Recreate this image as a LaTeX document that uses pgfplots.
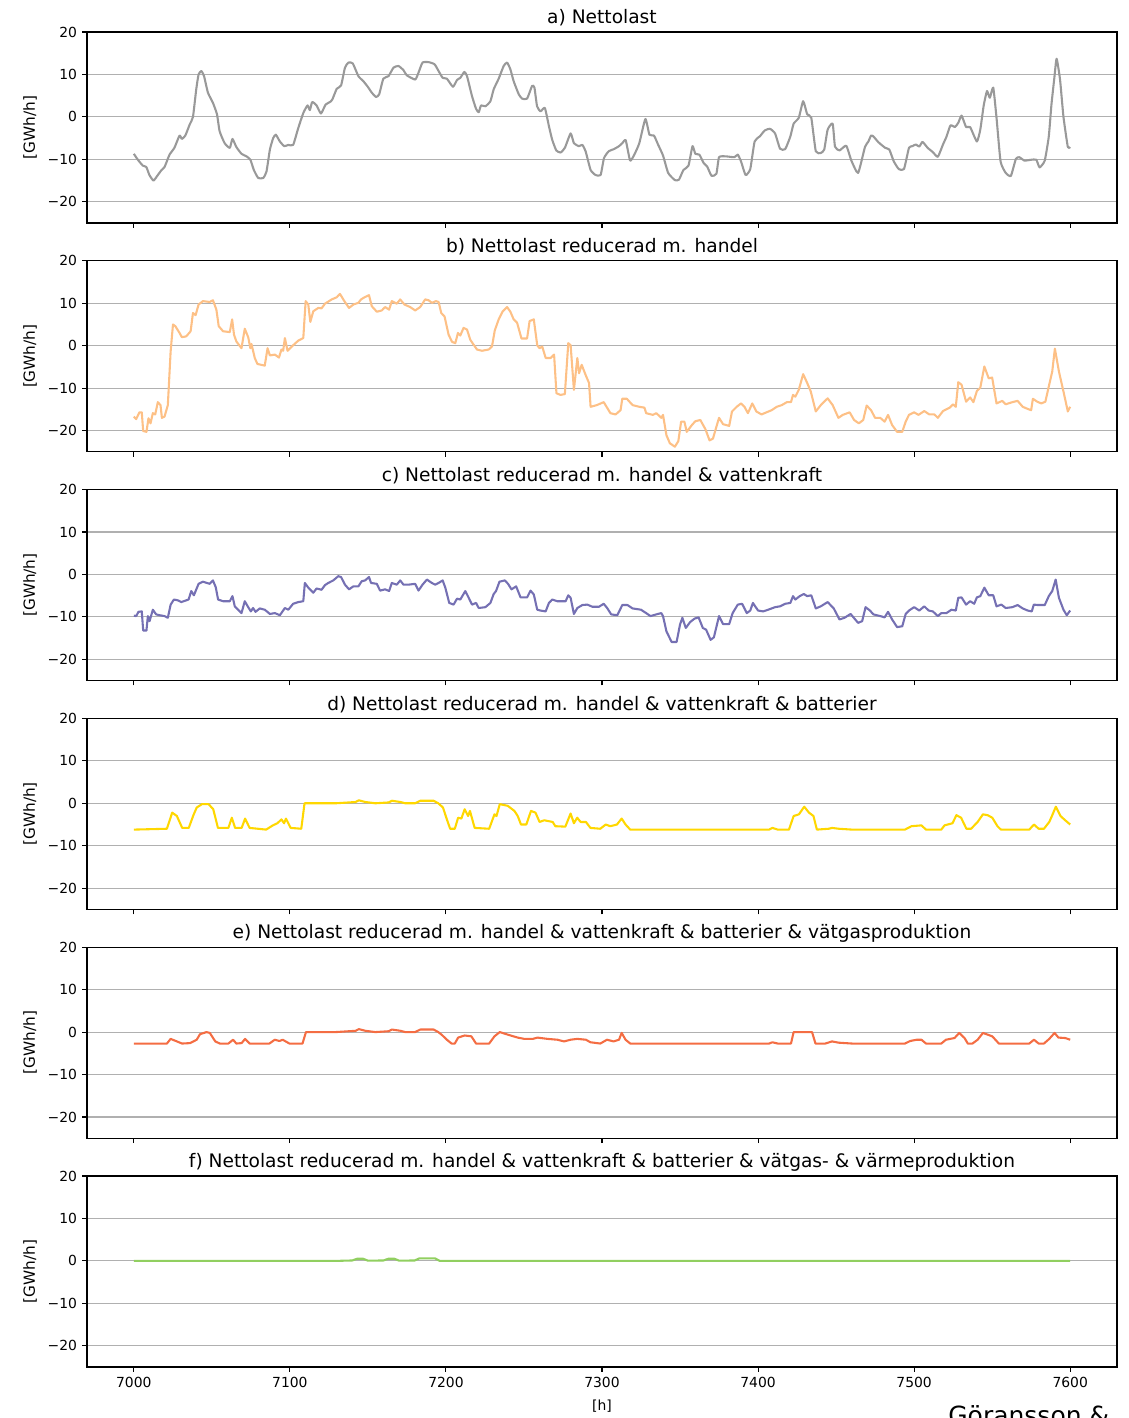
\documentclass[border=0pt]{standalone}
\usepackage{fontspec}
\setmainfont{DejaVu Sans}
\usepackage{pgfplots}
\pgfplotsset{compat=1.18}
\definecolor{gridgray}{HTML}{B0B0B0}
\definecolor{ca}{HTML}{999999}
\definecolor{cb}{HTML}{FDC086}
\definecolor{cc}{HTML}{7570B3}
\definecolor{cd}{HTML}{FFD700}
\definecolor{ce}{HTML}{F46D43}
\definecolor{cf}{HTML}{91CF60}
\pgfplotsset{
 panel/.style={
  scale only axis, width=741.6pt, height=137.52pt,
  anchor=south west,
  xmin=6970, xmax=7630, ymin=-25, ymax=20,
  xtick={7000,7100,7200,7300,7400,7500,7600},
  ytick={-20,-10,0,10,20},
  yticklabels={−20,−10,0,10,20},
  xticklabels={},
  ymajorgrids, major grid style={draw=gridgray, line width=0.8pt},
  axis line style={line width=0.8pt},
  tick align=outside, major tick length=3.5pt,
  every tick/.style={black, line width=0.8pt},
  xtick pos=bottom, ytick pos=left,
  tick label style={font=\fontsize{10}{12}\selectfont},
  yticklabel style={inner sep=0pt, xshift=-3.5pt},
  xticklabel style={inner sep=0pt, yshift=-3.5pt},
  title style={font=\fontsize{13.4}{15}\selectfont, at={(0.5,1)}, anchor=base, inner sep=0pt},
  ylabel={[GWh/h]},
  ylabel style={font=\fontsize{11}{13}\selectfont, at={(axis description cs:-0.0553,0.5)}, anchor=center, inner sep=0pt},
  every axis plot/.append style={line width=1.5pt, line join=round, mark=none},
 }
}
\begin{document}
\begin{tikzpicture}
\useasboundingbox (0,0) rectangle (812.16pt,1020.96pt);
% a
\begin{axis}[panel, at={(62.64pt,860.40pt)}, title={a) Nettolast}]
\addplot[color=ca, smooth, tension=0.3] coordinates {(7000,-8.7) (7002.6,-10.1) (7005.8,-11.5) (7008,-11.8) (7010,-13.7) (7012.6,-15.0) (7015.4,-13.7) (7017.6,-12.6) (7019.7,-11.8) (7022.9,-8.9) (7026,-7.3) (7029.3,-4.4) (7030.8,-5.2) (7033,-4.4) (7035.8,-1.8) (7037.9,0) (7040,6.5) (7041.5,10.0) (7043.3,10.8) (7045,9.6) (7047.5,5.7) (7050.7,3.3) (7053.3,0.6) (7055,-3.4) (7058.2,-6.2) (7061.5,-7.3) (7063.2,-5.2) (7065.7,-7.1) (7069,-8.7) (7072.2,-9.3) (7074.7,-10.1) (7076.9,-12.5) (7079.7,-14.4) (7082.9,-14.4) (7085,-12.9) (7087.2,-7.7) (7089.3,-5.0) (7091,-4.2) (7093.6,-5.8) (7096.4,-6.9) (7099,-6.6) (7102.1,-6.6) (7105.4,-2.6) (7108.6,0.9) (7111.3,2.7) (7112.8,1.6) (7114.3,3.5) (7117.1,2.7) (7119.9,0.8) (7122.9,2.9) (7125.7,3.5) (7127.2,4.1) (7130,6.6) (7132.8,7.4) (7135.3,11.6) (7137.5,12.8) (7140.3,12.6) (7143.9,9.6) (7147.1,8.4) (7149.9,7.1) (7152.5,5.7) (7155.2,4.7) (7157.2,5.3) (7159.9,9.0) (7163.2,9.6) (7166.4,11.6) (7169.6,12.0) (7172.8,11.0) (7174.9,9.8) (7180.3,8.8) (7182.4,10.4) (7185,12.8) (7188.9,12.9) (7192.7,12.4) (7195.3,10.8) (7197.9,9.2) (7200.6,9.0) (7204.5,7.1) (7207.1,8.7) (7209.2,9.2) (7211.8,10.6) (7213.5,9.6) (7216.7,4.9) (7219.3,1.9) (7221,1.1) (7222.5,2.7) (7225.3,2.5) (7228.5,3.7) (7230.6,6.5) (7233.8,9.0) (7237,12.0) (7239.2,12.8) (7241.3,11.2) (7243.4,8.4) (7246.7,5.3) (7248.8,4.3) (7252,4.3) (7255.2,7.3) (7256.7,6.9) (7258.4,2.5) (7260.6,1.3) (7263.4,2.1) (7266,-2.2) (7268.1,-5.4) (7270.7,-7.9) (7273.4,-8.4) (7276.2,-7.3) (7279.9,-3.9) (7282,-6.2) (7285.2,-6.9) (7287.4,-6.6) (7289.5,-8.1) (7292.7,-12.5) (7295.9,-13.7) (7299.1,-13.7) (7301.3,-9.7) (7304.3,-8.1) (7307.6,-7.6) (7310.9,-6.9) (7313,-6.2) (7315.2,-5.5) (7318,-10.3) (7320.7,-8.9) (7323.9,-6.2) (7327.8,-0.5) (7330.4,-4.2) (7333.3,-4.4) (7335.9,-6.5) (7339.1,-9.1) (7342.4,-13.2) (7346.7,-14.9) (7349.3,-14.8) (7352.2,-12.5) (7355.4,-11.5) (7358,-6.9) (7359.8,-8.7) (7362.4,-8.9) (7365.2,-10.9) (7367.4,-11.7) (7370.2,-13.9) (7373.3,-13.4) (7375,-9.5) (7379.3,-9.3) (7384.8,-9.5) (7387,-8.9) (7389.1,-10.5) (7392,-13.7) (7395,-12.3) (7397.8,-5.8) (7401.1,-4.6) (7404.3,-3.2) (7407.6,-2.8) (7410.9,-3.9) (7414.1,-7.5) (7417.4,-7.6) (7420.7,-4.6) (7422.8,-1.6) (7426.1,-0.2) (7428.9,3.7) (7431.5,0.6) (7434.1,-0.2) (7437,-8.1) (7440.2,-8.5) (7442.4,-7.7) (7444.6,-3.0) (7447.8,-1.6) (7449.3,-7.0) (7452.2,-7.9) (7456.5,-6.8) (7459.8,-10.3) (7464.1,-13.2) (7468.5,-7.1) (7470.7,-5.8) (7472.4,-4.4) (7473.9,-4.6) (7477.2,-6.0) (7481.5,-7.3) (7484.1,-7.7) (7487,-10.5) (7490.2,-12.3) (7493.5,-12.3) (7496.7,-7.3) (7498.9,-6.9) (7501.1,-6.5) (7503.3,-7.0) (7505.4,-5.9) (7508.7,-7.3) (7512,-8.3) (7515.2,-9.4) (7518.5,-6.5) (7520.7,-4.7) (7523.3,-2.0) (7526.1,-2.4) (7528.3,-1.4) (7530.4,0.3) (7533.3,-2.4) (7535.9,-2.4) (7540.2,-5.8) (7542.4,-3.0) (7544.6,2.7) (7546.7,6.1) (7548.5,4.5) (7550.7,6.9) (7552.8,-0.2) (7555.4,-10.5) (7558.7,-13.2) (7562,-13.9) (7565.2,-9.9) (7567.4,-9.5) (7570.7,-10.3) (7575,-10.1) (7578.3,-10.1) (7580.4,-11.9) (7583.7,-10.3) (7586.3,-4.6) (7588,2.9) (7589.8,9.0) (7591.3,13.7) (7593.5,8.8) (7595.7,0.0) (7598.5,-7.1) (7600,-7.1)};
\end{axis}
% b
\begin{axis}[panel, at={(62.64pt,695.66pt)}, title={b) Nettolast reducerad m. handel}]
\addplot[color=cb] coordinates {(7000,-16.7) (7001.5,-17.3) (7003.6,-15.7) (7005.1,-15.7) (7006,-20.1) (7008.1,-20.3) (7009.4,-17.1) (7010.7,-18.3) (7012.2,-15.9) (7013.7,-16.2) (7015.4,-13.3) (7017.1,-14.0) (7018,-17.0) (7019.7,-16.7) (7021.8,-14.0) (7023.6,-1.3) (7025.1,5.0) (7026.6,4.6) (7029.3,3.0) (7030.8,2.0) (7033.6,2.2) (7036.4,3.4) (7037.9,7.7) (7039.6,7.2) (7041.5,9.7) (7044.3,10.5) (7048.6,10.3) (7050.7,10.7) (7052.9,8.5) (7054.4,4.6) (7057.2,3.4) (7061.5,3.2) (7063,6.2) (7064.2,2.6) (7065.7,1.0) (7069,-0.6) (7071.1,4.0) (7073.3,2.0) (7074.7,-0.6) (7075.4,0.4) (7077.5,-2.9) (7079.2,-4.3) (7083.9,-4.7) (7085.7,-0.6) (7087.2,-2.3) (7090.4,-2.1) (7093,-2.8) (7094.6,-0.9) (7095.7,-1.2) (7096.8,1.8) (7098.5,-1.2) (7102.1,0.1) (7105.4,1.2) (7108.6,1.8) (7110.1,10.5) (7111.8,9.7) (7113.1,5.6) (7115,8.1) (7118.2,8.9) (7120.3,8.8) (7122.5,9.9) (7126.8,10.9) (7130,11.4) (7132.1,12.2) (7134.9,10.5) (7137.9,8.9) (7140.7,9.7) (7143.9,10.1) (7145.6,10.9) (7147.8,11.4) (7150.7,11.9) (7152.5,9.3) (7155.7,8.0) (7158.9,8.3) (7161,9.1) (7163.6,8.5) (7165.3,10.5) (7168.5,9.9) (7170.7,10.9) (7173.4,9.7) (7177.1,9.1) (7180.3,8.3) (7183.5,9.1) (7186.7,10.9) (7188.9,10.7) (7191,10.1) (7193.6,10.5) (7195.3,10.3) (7197,7.7) (7199.1,6.9) (7201.7,2.6) (7203.9,0.9) (7206,0.6) (7207.7,3.0) (7209.2,2.4) (7211.3,4.2) (7213.5,3.8) (7215.6,1.4) (7217.8,0.2) (7219.9,-0.9) (7223.1,-1.2) (7227.4,-0.9) (7229.5,-0.2) (7231.3,3.6) (7233.8,6.2) (7236.4,8.1) (7239.2,9.1) (7241.3,8.0) (7243.4,6.2) (7245.6,5.4) (7248.4,1.7) (7252,1.7) (7253.6,5.8) (7256.3,6.2) (7258.5,0.1) (7260,-0.6) (7261.7,-0.2) (7263.9,-2.9) (7267.1,-2.9) (7269.3,-2.1) (7270.8,-11.2) (7273.4,-11.6) (7276.2,-11.4) (7278.4,0.6) (7279.9,0.1) (7282,-10.4) (7284.2,-2.9) (7285.3,-6.5) (7287,-4.5) (7289.5,-6.9) (7291.7,-8.8) (7292.7,-14.4) (7296.7,-14.0) (7301.1,-13.3) (7305.4,-15.9) (7308.7,-16.2) (7311.9,-15.2) (7313,-12.5) (7315.9,-12.5) (7319.6,-14.0) (7323.9,-14.4) (7327.2,-14.6) (7328.3,-15.9) (7332.6,-16.3) (7334.8,-15.9) (7338,-17.0) (7339.1,-16.3) (7341.3,-21.1) (7343.5,-23.0) (7346.7,-23.8) (7348.9,-22.5) (7350.7,-17.9) (7352.8,-17.9) (7354.3,-20.3) (7357.6,-18.7) (7359.8,-17.8) (7363,-17.5) (7366.3,-19.7) (7368.9,-22.3) (7371.1,-21.9) (7373.3,-19.1) (7375,-17.0) (7377.6,-18.5) (7381.5,-18.9) (7383.3,-15.5) (7386.3,-14.4) (7389.1,-13.6) (7391.3,-14.4) (7393.5,-15.9) (7396.3,-13.6) (7398.9,-15.5) (7402.2,-16.2) (7405.4,-15.7) (7408.7,-15.2) (7412,-14.4) (7415.2,-14.0) (7418.5,-13.3) (7421.1,-13.3) (7422.4,-11.6) (7423.9,-12.0) (7426.1,-10.4) (7428.9,-6.7) (7431.5,-8.8) (7433.7,-10.7) (7437,-15.5) (7440.2,-14.0) (7444.6,-12.4) (7447.8,-14.0) (7451.5,-17.0) (7454.3,-16.3) (7458.7,-15.7) (7461.5,-17.5) (7464.6,-18.3) (7467.4,-17.5) (7469.6,-14.1) (7472.4,-15.2) (7475,-17.0) (7478.3,-17.0) (7481.1,-17.9) (7483.3,-16.3) (7485.9,-18.7) (7489.1,-20.3) (7492.4,-20.3) (7494.6,-17.9) (7496.7,-16.3) (7500,-15.7) (7502.8,-16.3) (7506.5,-15.4) (7509.8,-16.2) (7513,-16.2) (7515.2,-17.0) (7518.5,-15.4) (7522.8,-14.6) (7525,-13.8) (7526.7,-14.4) (7528.3,-8.6) (7530.4,-9.2) (7533.3,-13.2) (7535.9,-12.2) (7538,-13.3) (7540.2,-10.7) (7542.4,-9.9) (7545,-4.9) (7547.8,-7.7) (7550,-7.5) (7552.8,-13.6) (7556.5,-13.0) (7558.7,-13.8) (7563,-13.3) (7566.3,-13.0) (7569.6,-14.4) (7572.8,-14.9) (7575,-15.2) (7576.1,-12.5) (7578.9,-13.2) (7581.5,-13.6) (7584.1,-13.2) (7586.3,-9.6) (7588.5,-6.1) (7590.2,-0.7) (7592.8,-6.1) (7595.7,-10.8) (7598.5,-15.5) (7600,-14.4)};
\end{axis}
% c
\begin{axis}[panel, at={(62.64pt,530.93pt)}, title={c) Nettolast reducerad m. handel \& vattenkraft}]
\addplot[color=cc] coordinates {(7000,-9.7) (7001.5,-9.8) (7003,-8.8) (7005.1,-8.7) (7006,-13.2) (7008.1,-13.2) (7009,-9.8) (7010.1,-11.0) (7012.2,-8.3) (7014.3,-9.4) (7016.5,-9.6) (7019.7,-9.8) (7021.8,-10.2) (7023.6,-7.1) (7025.7,-5.9) (7028.3,-6.1) (7030.4,-6.5) (7035.1,-5.9) (7036.8,-3.9) (7038.5,-4.9) (7041.5,-2.2) (7044.3,-1.7) (7048.6,-2.2) (7050.7,-1.4) (7052.5,-3.0) (7054,-5.9) (7057.2,-6.3) (7061.5,-6.3) (7063.2,-5.1) (7064.7,-7.5) (7066.8,-8.3) (7069,-9.1) (7071.1,-6.3) (7073.3,-7.7) (7075,-8.7) (7076.4,-7.9) (7078,-8.8) (7080.7,-8.0) (7083.9,-8.3) (7087.2,-9.3) (7090.4,-9.1) (7093.6,-9.6) (7096.8,-7.9) (7099,-8.3) (7102.1,-6.9) (7105.4,-6.5) (7108.6,-6.3) (7109.6,-2.0) (7111.8,-3.1) (7115,-4.3) (7117.1,-3.3) (7120.3,-3.6) (7122.5,-2.5) (7124.6,-2.0) (7127.8,-1.4) (7131,-0.4) (7132.8,-0.6) (7135.3,-2.4) (7137.9,-3.5) (7140.7,-2.8) (7143.9,-2.8) (7146,-1.6) (7148.2,-1.4) (7150.7,-0.6) (7152,-2.0) (7155.7,-2.2) (7157.8,-3.8) (7161,-3.5) (7163.6,-3.9) (7165.3,-2.0) (7168.5,-2.4) (7170.7,-1.4) (7172.8,-2.4) (7176,-2.4) (7180.3,-2.2) (7182.4,-3.8) (7185,-2.4) (7187.8,-1.2) (7191,-2.0) (7193.1,-2.4) (7195.3,-2.0) (7197.9,-1.4) (7199.6,-3.1) (7202.1,-6.7) (7204.9,-7.1) (7207.1,-5.7) (7209.2,-5.9) (7211.3,-4.6) (7212.4,-3.9) (7214.6,-5.5) (7216.7,-7.1) (7219.3,-6.7) (7221,-7.9) (7225.3,-7.7) (7228.5,-6.7) (7230.6,-4.6) (7232.1,-3.9) (7234.3,-1.7) (7237.7,-1.4) (7239.8,-2.2) (7242,-3.5) (7245,-2.8) (7247.8,-5.4) (7252,-5.4) (7254.2,-3.8) (7256.3,-4.7) (7258.5,-8.3) (7260.6,-8.5) (7263.9,-8.7) (7266,-6.7) (7268.1,-5.9) (7271.3,-6.3) (7276.7,-6.3) (7278.4,-4.9) (7279.9,-5.5) (7282,-9.3) (7284.2,-7.9) (7287.4,-7.2) (7290.6,-7.1) (7293.8,-7.6) (7298.1,-7.6) (7301.1,-6.9) (7303.3,-7.9) (7305.9,-9.4) (7309.8,-9.6) (7313,-7.2) (7316.3,-7.2) (7319.6,-8.0) (7325,-8.3) (7328.3,-9.1) (7331.1,-9.8) (7334.8,-9.4) (7338,-9.1) (7339.1,-9.8) (7341.3,-13.4) (7344.6,-15.9) (7347.8,-15.9) (7350,-11.8) (7351.5,-10.2) (7353.7,-12.6) (7356.5,-11.2) (7359.3,-10.4) (7361.9,-10.1) (7364.6,-12.6) (7366.7,-13.0) (7369.6,-15.4) (7371.7,-14.8) (7375,-9.8) (7377.6,-11.7) (7381.5,-11.7) (7383.7,-9.1) (7387,-7.1) (7389.8,-6.9) (7392.8,-9.1) (7395,-8.5) (7396.7,-6.7) (7400,-8.5) (7403.3,-8.7) (7406.5,-8.3) (7410.9,-7.7) (7414.1,-7.5) (7417.4,-6.9) (7420.7,-6.7) (7422.4,-5.1) (7423.9,-5.9) (7426.7,-5.1) (7429.3,-4.6) (7431.5,-5.1) (7434.1,-4.9) (7437,-8.0) (7440.2,-7.5) (7444.6,-6.5) (7448.5,-8.0) (7452.2,-10.6) (7455.4,-10.2) (7459.3,-9.3) (7464.1,-11.4) (7466.7,-11.0) (7468.9,-7.7) (7471.7,-8.5) (7473.9,-9.4) (7478.3,-9.8) (7481.1,-10.1) (7483.3,-8.8) (7485.9,-10.6) (7489.1,-12.4) (7492.4,-12.2) (7494.6,-9.3) (7496.7,-8.5) (7500,-7.7) (7503.3,-8.5) (7506.5,-7.5) (7509.3,-8.5) (7512,-8.7) (7515.2,-9.8) (7517.4,-9.1) (7520.7,-9.1) (7523.9,-8.3) (7526.7,-8.5) (7528.3,-5.5) (7530.4,-5.4) (7533.3,-7.1) (7535.9,-6.3) (7538.5,-6.9) (7540.2,-5.4) (7542.4,-5.1) (7545,-3.1) (7547.8,-4.9) (7550.7,-4.9) (7552.8,-7.5) (7555.9,-7.1) (7558.7,-7.9) (7563,-7.7) (7566.3,-7.2) (7569.6,-8.0) (7572.8,-8.5) (7575.4,-8.7) (7576.7,-7.1) (7579.3,-7.2) (7583.7,-7.2) (7586.3,-5.1) (7588.5,-3.9) (7590.7,-1.2) (7592.8,-5.5) (7595.7,-8.3) (7597.8,-9.6) (7600,-8.5)};
\end{axis}
% d
\begin{axis}[panel, at={(62.64pt,366.19pt)}, title={d) Nettolast reducerad m. handel \& vattenkraft \& batterier}]
\addplot[color=cd] coordinates {(7000,-6.2) (7021.2,-6.0) (7024.6,-2.2) (7027.6,-3.0) (7031,-5.8) (7035.2,-5.8) (7038.2,-2.8) (7040.3,-1.0) (7043.7,-0.2) (7047.9,-0.2) (7050.9,-1.4) (7053.9,-5.8) (7060.6,-5.8) (7062.8,-3.4) (7064.9,-5.8) (7069.1,-5.8) (7071.3,-3.6) (7074.2,-5.8) (7084.8,-6.2) (7089.1,-5.2) (7092,-4.7) (7094.6,-3.8) (7096.3,-4.7) (7097.5,-3.6) (7100.5,-5.8) (7107.3,-6.0) (7109.4,0.0) (7129.3,0.0) (7142.1,0.3) (7144.2,0.7) (7148.4,0.3) (7154.8,0.0) (7163.3,0.2) (7165.4,0.6) (7170.9,0.3) (7173.9,0.0) (7180.2,0.0) (7183.6,0.6) (7192.1,0.6) (7195.1,0.0) (7198.1,-1.0) (7200.6,-3.8) (7202.7,-6.0) (7205.7,-6.0) (7207.8,-3.4) (7209.9,-3.6) (7212,-1.4) (7214.2,-3.0) (7215.4,-1.8) (7218.4,-5.8) (7227.7,-6.0) (7231.1,-2.6) (7232.4,-3.0) (7234.5,-0.2) (7239.6,-0.6) (7243.9,-1.8) (7246,-3.0) (7248.1,-5.0) (7251.5,-5.0) (7254.5,-1.8) (7257.4,-2.2) (7260,-4.4) (7263,-4.0) (7268.4,-4.4) (7270.1,-5.4) (7276.5,-5.5) (7279.9,-2.4) (7282,-4.7) (7284.1,-3.4) (7286.3,-4.4) (7289.7,-4.4) (7292.6,-5.8) (7298.9,-6.0) (7302.4,-5.0) (7305.3,-5.4) (7309.6,-5.0) (7312.6,-3.6) (7315.1,-5.0) (7318.1,-6.2) (7407.1,-6.2) (7409.2,-5.8) (7412.6,-6.2) (7419.8,-6.2) (7422.8,-3.0) (7426.2,-2.6) (7429.6,-0.8) (7432.6,-2.2) (7435.5,-3.0) (7437.7,-6.2) (7445.3,-6.0) (7447.4,-5.8) (7451.7,-6.0) (7460.2,-6.2) (7494.1,-6.2) (7498.3,-5.4) (7504.7,-5.2) (7507.6,-6.2) (7517.4,-6.2) (7519.5,-5.2) (7524.6,-4.7) (7527.1,-2.8) (7530.1,-3.4) (7533.5,-6.0) (7536.5,-6.0) (7540.7,-4.4) (7544.1,-2.6) (7547.1,-2.8) (7550.1,-3.4) (7553.4,-5.4) (7555.6,-6.2) (7573.8,-6.2) (7576.8,-5.0) (7579.8,-6.0) (7583.2,-6.0) (7586.6,-4.4) (7588.3,-3.0) (7590.8,-0.8) (7593.8,-3.0) (7596.8,-4.0) (7600,-5.0)};
\end{axis}
% e
\begin{axis}[panel, at={(62.64pt,201.46pt)}, title={e) Nettolast reducerad m. handel \& vattenkraft \& batterier \& vätgasproduktion}]
\addplot[color=ce] coordinates {(7000,-2.7) (7021.2,-2.7) (7023.6,-1.6) (7027.6,-2.2) (7030.9,-2.7) (7036,-2.6) (7040.3,-1.8) (7042.4,-0.5) (7046.6,0.0) (7048.7,-0.2) (7052.2,-2.2) (7055.1,-2.7) (7060.6,-2.7) (7063.6,-1.8) (7065.7,-2.7) (7069.1,-2.6) (7071.3,-1.6) (7074.2,-2.7) (7086.9,-2.7) (7090.3,-1.8) (7093.3,-2.1) (7095.4,-1.8) (7099.7,-2.7) (7108.1,-2.7) (7110.3,0.0) (7129.3,0.0) (7142.1,0.3) (7144.2,0.7) (7148.4,0.3) (7154.8,0.0) (7163.3,0.2) (7165.4,0.6) (7170.9,0.3) (7173.9,0.0) (7180.2,0.0) (7183.6,0.6) (7192.1,0.6) (7195.1,0.0) (7197.2,-0.6) (7200.6,-1.8) (7203.6,-2.7) (7205.7,-2.7) (7207.8,-1.3) (7212,-0.8) (7216.3,-1.0) (7219.3,-2.7) (7227.7,-2.7) (7231.1,-1.0) (7234.5,0.0) (7239.6,-0.6) (7246,-1.3) (7250.2,-1.6) (7255.7,-1.6) (7258.7,-1.3) (7265,-1.6) (7271.4,-1.8) (7275.7,-2.2) (7279.9,-1.8) (7284.1,-1.6) (7289.7,-1.8) (7292.6,-2.4) (7298.9,-2.7) (7303.2,-1.8) (7307.4,-2.2) (7310.9,-1.8) (7312.6,-0.2) (7315.1,-1.8) (7318.1,-2.7) (7407.1,-2.7) (7409.2,-2.4) (7412.6,-2.7) (7421.1,-2.7) (7422.8,0.0) (7434.6,0.0) (7436.8,-2.7) (7443.1,-2.7) (7447.4,-2.2) (7451.7,-2.5) (7460.2,-2.7) (7494.1,-2.7) (7497.5,-2.1) (7501.7,-1.8) (7504.7,-1.8) (7507.6,-2.7) (7517.4,-2.7) (7520.4,-1.8) (7525.9,-1.4) (7528.9,-0.2) (7532.3,-1.4) (7534.4,-2.7) (7537.4,-2.7) (7540.7,-1.8) (7544.1,-0.2) (7547.1,-0.6) (7550.1,-1.0) (7554.3,-2.7) (7573.8,-2.7) (7576.8,-1.8) (7579.8,-2.7) (7583.2,-2.7) (7586.6,-1.6) (7590,-0.2) (7592.5,-1.3) (7596.8,-1.4) (7600,-1.8)};
\end{axis}
% f
\begin{axis}[panel, at={(62.64pt,36.72pt)}, title={f) Nettolast reducerad m. handel \& vattenkraft \& batterier \& vätgas- \& värmeproduktion},
  xticklabels={7000,7100,7200,7300,7400,7500,7600},
  xlabel={[h]}, xlabel style={font=\fontsize{10}{12}\selectfont, inner sep=0pt, yshift=-9pt}]
\addplot[color=cf] coordinates {(7000,0) (7130,0) (7140,0.1) (7143,0.5) (7147,0.5) (7150,0.05) (7160,0.1) (7163,0.5) (7167,0.5) (7170,0.05) (7180,0.1) (7183,0.6) (7193,0.6) (7196,0) (7600,0)};
\end{axis}
\node[anchor=base west, inner sep=0pt, font=\fontsize{18}{21.6}\selectfont] at (682.6pt,-4.7pt) {Göransson \&};
\end{tikzpicture}
\end{document}
